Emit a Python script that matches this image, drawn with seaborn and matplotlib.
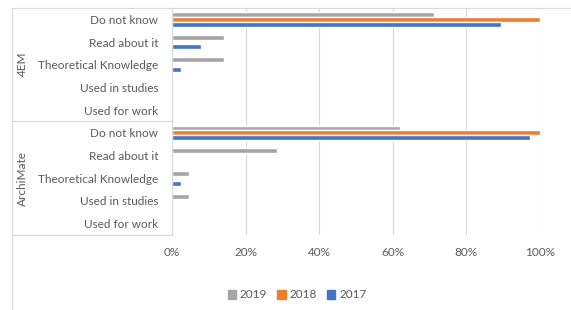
import pandas as pd
import seaborn as sns
import matplotlib.pyplot as plt
from matplotlib.lines import Line2D
from matplotlib.ticker import PercentFormatter

sns.set_style('white')
plt.rcParams['font.family'] = ['Lato', 'DejaVu Sans']

groups = ['4EM', 'ArchiMate']
levels = ['Do not know', 'Read about it', 'Theoretical Knowledge',
          'Used in studies', 'Used for work']
years = ['2019', '2018', '2017']
colors = ['#A5A5A5', '#ED7D31', '#4472C4']

# share of respondents per level, one list per group and year
em_2019 = [0.713, 0.142, 0.142, 0.0, 0.0]
em_2018 = [1.0, 0.0, 0.0, 0.0, 0.0]
em_2017 = [0.895, 0.078, 0.025, 0.0, 0.0]
am_2019 = [0.619, 0.285, 0.047, 0.047, 0.0]
am_2018 = [1.0, 0.0, 0.0, 0.0, 0.0]
am_2017 = [0.974, 0.0, 0.025, 0.0, 0.0]

series = {('4EM', '2019'): em_2019, ('4EM', '2018'): em_2018,
          ('4EM', '2017'): em_2017, ('ArchiMate', '2019'): am_2019,
          ('ArchiMate', '2018'): am_2018, ('ArchiMate', '2017'): am_2017}

rows = []
for (g, yr), vals in series.items():
    for lvl, v in zip(levels, vals):
        rows.append({'cat': g + '|' + lvl, 'year': yr, 'share': v})
df = pd.DataFrame(rows)
order = [g + '|' + l for g in groups for l in levels]

W, H = 571, 310
fs = 8.5
fig = plt.figure(figsize=(W / 100, H / 100), dpi=100)
ax = fig.add_axes([172 / W, 1 - 235 / H, (540 - 172) / W, (235 - 8) / H])

sns.barplot(data=df, x='share', y='cat', hue='year', order=order,
            hue_order=years, palette=colors, orient='h', width=0.64,
            gap=0, ax=ax, saturation=1, legend=True)

ax.set_xlim(0, 1)
ax.xaxis.set_major_formatter(PercentFormatter(1.0, decimals=0))
ax.set_xticks([0, 0.2, 0.4, 0.6, 0.8, 1.0])
ax.grid(axis='x', color='#D9D9D9', lw=0.8)
ax.set_axisbelow(True)
ax.set_xlabel('')
ax.set_ylabel('')
for s in ['top', 'right', 'bottom']:
    ax.spines[s].set_visible(False)
ax.spines['left'].set_color('#D9D9D9')
ax.set_yticks(range(len(order)))
ax.set_yticklabels([l for g in groups for l in levels])
ax.tick_params(axis='y', length=0, pad=10, labelsize=fs, labelcolor='#595959')
ax.tick_params(axis='x', length=0, pad=9, labelsize=fs, labelcolor='#595959')

# category box and chart border
def fline(x0, y0, x1, y1):
    fig.add_artist(Line2D([x0 / W, x1 / W], [1 - y0 / H, 1 - y1 / H],
                          color='#D9D9D9', lw=0.8))

fline(12, 8, W, 8)
fline(12, 8, 12, H)
fline(12, 121, 172, 121)
fline(12, 235, 172, 235)

fig.text(22 / W, 1 - 64 / H, '4EM', rotation=90, ha='center', va='center',
         fontsize=fs, color='#595959')
fig.text(22 / W, 1 - 178 / H, 'ArchiMate', rotation=90, ha='center',
         va='center', fontsize=fs, color='#595959')

ax.get_legend().remove()
handles = [plt.Rectangle((0, 0), 1, 1, color=c) for c in colors]
fig.legend(handles, years, loc='center', bbox_to_anchor=(297 / W, 1 - 295 / H),
           ncol=3, frameon=False, fontsize=fs, handlelength=0.7,
           handleheight=0.7, handletextpad=0.3, columnspacing=0.9,
           labelcolor='#595959')

fig.savefig('out.png', dpi=100)
